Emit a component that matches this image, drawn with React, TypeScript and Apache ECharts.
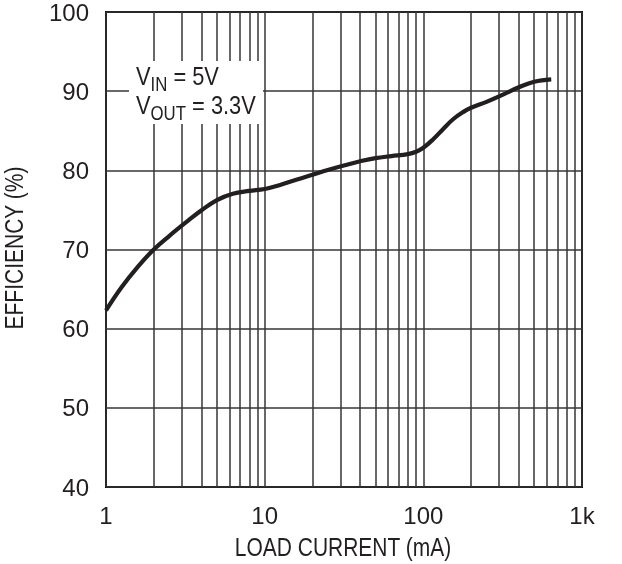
import React, { useEffect, useRef } from "react";
import * as echarts from "echarts";

// Load current (mA) and efficiency (%)
const loadCurrent = [1, 1.25, 1.6, 2, 2.5, 3.2, 4, 5, 6.3, 8, 10, 12.5, 16, 20, 25, 32, 40, 50, 63, 80, 90, 100, 115, 133, 154, 178, 200, 250, 320, 400, 500, 640];
const efficiency = [62.3, 65.2, 67.9, 70.0, 71.7, 73.45, 74.95, 76.25, 77.05, 77.4, 77.65, 78.15, 78.85, 79.45, 80.05, 80.65, 81.15, 81.55, 81.8, 82.05, 82.35, 82.85, 83.9, 85.2, 86.45, 87.35, 87.9, 88.65, 89.6, 90.5, 91.2, 91.5];

// Minor log grid lines (mA)
const minorGrid = [2, 3, 4, 5, 6, 7, 8, 9, 20, 30, 40, 50, 60, 70, 80, 90, 200, 300, 400, 500, 600, 700, 800, 900];

// Tick labels
const xTickValues = [1, 10, 100, 1000];
const xTickLabels = ["1", "10", "100", "1k"];
const yTicks = [40, 50, 60, 70, 80, 90, 100];

// Titles and annotation
const xTitle = "LOAD CURRENT (mA)";
const yTitle = "EFFICIENCY (%)";
const noteLine1 = "{m|V}{s|IN}{m| = 5V}";
const noteLine2 = "{m|V}{s|OUT}{m| = 3.3V}";

const FONT = "'Liberation Sans Narrow', 'Arial Narrow', 'Liberation Sans', Arial, sans-serif";
const INK = "#231f20";
const GRIDC = "#363636";
const NARROW = 0.84;

export default function App() {
  const ref = useRef<HTMLDivElement>(null);
  useEffect(() => {
    if (!ref.current) return;
    const chart = echarts.init(ref.current, undefined, { renderer: "svg" });
    const data = loadCurrent.map((x, i) => [x, efficiency[i]]);
    const rich = {
      m: { fontFamily: FONT, fontSize: 26, color: INK, verticalAlign: "top", lineHeight: 31 },
      s: { fontFamily: FONT, fontSize: 20, color: INK, verticalAlign: "bottom", lineHeight: 31 },
    };
    chart.setOption({
      animation: false,
      grid: {
        left: 106,
        top: 12,
        right: 40,
        bottom: 77,
        show: true,
        borderColor: "#000",
        borderWidth: 2,
        backgroundColor: "transparent",
      },
      xAxis: {
        type: "log",
        logBase: 10,
        min: 1,
        max: 1000,
        axisLine: { show: false },
        axisTick: { show: false },
        axisLabel: {
          fontFamily: FONT,
          fontSize: 24,
          color: INK,
          margin: 16,
          formatter: (v: number) => {
            const i = xTickValues.indexOf(Math.round(v));
            return i >= 0 ? xTickLabels[i] : "";
          },
        },
        splitLine: { show: true, lineStyle: { color: GRIDC, width: 1.5 } },
      },
      yAxis: {
        type: "value",
        min: yTicks[0],
        max: yTicks[yTicks.length - 1],
        interval: 10,
        axisLine: { show: false },
        axisTick: { show: false },
        axisLabel: { fontFamily: FONT, fontSize: 24, color: INK, margin: 17 },
        splitLine: { show: true, lineStyle: { color: GRIDC, width: 1.5 } },
      },
      series: [
        {
          type: "line",
          data,
          smooth: 0.4,
          showSymbol: false,
          symbol: "none",
          lineStyle: { color: INK, width: 4.2 },
          z: 5,
          markLine: {
            silent: true,
            symbol: ["none", "none"],
            label: { show: false },
            emphasis: { disabled: true },
            lineStyle: { type: "solid", color: GRIDC, width: 1.5 },
            data: minorGrid.map((v) => ({ xAxis: v })),
            z: 1,
          },
        },
      ],
      graphic: [
        {
          type: "text",
          x: 343,
          y: 547,
          scaleX: NARROW,
          style: { text: xTitle, fontFamily: FONT, fontSize: 25, fill: INK, align: "center", verticalAlign: "middle" },
        },
        {
          type: "text",
          x: 14,
          y: 248,
          rotation: Math.PI / 2,
          scaleX: NARROW,
          style: { text: yTitle, fontFamily: FONT, fontSize: 25, fill: INK, align: "center", verticalAlign: "middle" },
        },
        { type: "rect", shape: { x: 129, y: 61, width: 134, height: 63 }, style: { fill: "#fff" }, z: 100 },
        {
          type: "text",
          x: 136,
          y: 63,
          scaleX: NARROW,
          z: 101,
          style: { text: noteLine1, rich, fontFamily: FONT, fontSize: 26, fill: INK, align: "left", verticalAlign: "top" },
        },
        {
          type: "text",
          x: 136,
          y: 92,
          scaleX: NARROW,
          z: 101,
          style: { text: noteLine2, rich, fontFamily: FONT, fontSize: 26, fill: INK, align: "left", verticalAlign: "top" },
        },
      ],
    });
    return () => chart.dispose();
  }, []);
  return <div ref={ref} style={{ position: "fixed", left: 0, top: 0, width: 622, height: 564 }} />;
}
